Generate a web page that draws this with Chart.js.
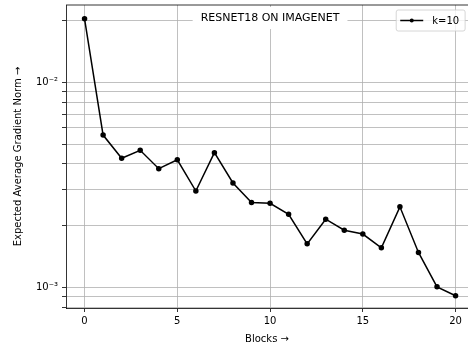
<!DOCTYPE html>
<html>
<head>
<meta charset="utf-8">
<script src="https://cdn.jsdelivr.net/npm/chart.js@4"></script>
<style>
    html, body { margin: 0; padding: 0; background: #fff; overflow: hidden; }
    canvas { display: block; }
</style>
</head>
<body>
<canvas id="chart" width="468" height="345" style="width:468px;height:345px"></canvas>
<script>
// Данные
const blocks = [0, 1, 2, 3, 4, 5, 6, 7, 8, 9, 10, 11, 12, 13, 14, 15, 16, 17, 18, 19, 20];
const gradNorm = [0.0204, 0.00553, 0.00426, 0.00466, 0.00379, 0.00419, 0.00295, 0.00454, 0.00323,
    0.00259, 0.00257, 0.00227, 0.00163, 0.00215, 0.00190, 0.00182, 0.00156, 0.00247, 0.00148,
    0.001006, 0.00091];
const xTicks = [0, 5, 10, 15, 20];
const yTicks = [0.0008, 0.0009, 0.001, 0.002, 0.003, 0.004, 0.005, 0.006, 0.007, 0.008, 0.009, 0.01, 0.02];
const seriesLabel = "k=10";
const chartTitle = "RESNET18 ON IMAGENET";

// Ось X в оригинале идёт от -1 до 21, но картинка обрезана справа
const xMin = -1;
const xFullMax = 21;
const xVisibleMax = 20.67;

const FONT = "DejaVu Sans";

function isDecade(v) {
    const l = Math.log10(v);
    return Math.abs(l - Math.round(l)) < 1e-9;
}

function decadeLabel(v) {
    const sup = { "-": "⁻", "0": "⁰", "1": "¹", "2": "²", "3": "³", "4": "⁴", "5": "⁵", "6": "⁶", "7": "⁷", "8": "⁸", "9": "⁹" };
    const e = String(Math.round(Math.log10(v)));
    return "10" + e.split("").map((c) => sup[c]).join("");
}

// Верхняя рамка, заголовок внутри области и легенда
const overlayPlugin = {
    id: "overlay",
    afterDatasetsDraw(chart) {
        const ctx = chart.ctx;
        const a = chart.chartArea;
        const xs = chart.scales.x;
        const fullRight = xs.getPixelForValue(xFullMax);
        ctx.save();

        ctx.strokeStyle = "#000";
        ctx.lineWidth = 0.8;
        ctx.beginPath();
        ctx.moveTo(a.left, a.top);
        ctx.lineTo(a.right, a.top);
        ctx.stroke();

        // заголовок с белой подложкой, по центру полной оси
        ctx.font = "11px '" + FONT + "'";
        const tw = ctx.measureText(chartTitle).width;
        const cx = xs.getPixelForValue((xMin + xFullMax) / 2);
        const cy = a.top + 13;
        ctx.fillStyle = "#fff";
        ctx.fillRect(cx - tw / 2 - 8, a.top + 2, tw + 16, 22);
        ctx.fillStyle = "#000";
        ctx.textAlign = "center";
        ctx.textBaseline = "middle";
        ctx.fillText(chartTitle, cx, cy);

        // легенда
        ctx.font = "10px '" + FONT + "'";
        const lw = ctx.measureText(seriesLabel).width;
        const boxR = fullRight - 9;
        const boxW = lw + 42;
        const boxL = boxR - boxW;
        const boxT = a.top + 5;
        const boxH = 21;
        ctx.beginPath();
        ctx.roundRect(boxL, boxT, boxW, boxH, 2);
        ctx.fillStyle = "rgba(255,255,255,0.8)";
        ctx.fill();
        ctx.strokeStyle = "#cccccc";
        ctx.lineWidth = 0.8;
        ctx.stroke();
        const ly = boxT + boxH / 2;
        ctx.strokeStyle = "#000";
        ctx.lineWidth = 1.5;
        ctx.beginPath();
        ctx.moveTo(boxL + 4, ly);
        ctx.lineTo(boxL + 27, ly);
        ctx.stroke();
        ctx.fillStyle = "#000";
        ctx.beginPath();
        ctx.arc(boxL + 15.5, ly, 2, 0, Math.PI * 2);
        ctx.fill();
        ctx.textAlign = "left";
        ctx.fillText(seriesLabel, boxL + 36, ly + 0.5);

        ctx.restore();
    },
};

new Chart(document.getElementById("chart"), {
    type: "line",
    data: {
        datasets: [
            {
                label: seriesLabel,
                data: blocks.map((b, i) => ({ x: b, y: gradNorm[i] })),
                borderColor: "#000",
                backgroundColor: "#000",
                borderWidth: 1.5,
                pointRadius: 2,
                pointHoverRadius: 2,
                tension: 0,
            },
        ],
    },
    options: {
        responsive: false,
        maintainAspectRatio: false,
        devicePixelRatio: 1,
        animation: false,
        events: [],
        layout: { autoPadding: false, padding: { left: 0, right: 0, top: 5, bottom: 0 } },
        plugins: {
            legend: { display: false },
            title: { display: false },
            tooltip: { enabled: false },
        },
        scales: {
            x: {
                type: "linear",
                min: xMin,
                max: xVisibleMax,
                afterBuildTicks: (scale) => {
                    scale.ticks = xTicks.map((v) => ({ value: v }));
                },
                afterFit: (scale) => {
                    scale.height = 37;
                    scale.paddingLeft = 0;
                    scale.paddingRight = 0;
                },
                grid: {
                    color: "#b0b0b0",
                    lineWidth: 0.8,
                    tickColor: "#000",
                    tickLength: 4,
                },
                border: { color: "#000", width: 0.8 },
                ticks: {
                    color: "#000",
                    padding: 3,
                    maxRotation: 0,
                    autoSkip: false,
                    font: { family: FONT, size: 10 },
                },
                title: {
                    display: true,
                    text: "Blocks →",
                    color: "#000",
                    font: { family: FONT, size: 10 },
                    padding: { top: 2, bottom: 0 },
                },
            },
            y: {
                type: "logarithmic",
                min: 0.000793,
                max: 0.02383,
                afterBuildTicks: (scale) => {
                    scale.ticks = yTicks.map((v) => ({ value: v, major: isDecade(v) }));
                },
                afterFit: (scale) => {
                    scale.width = 66;
                    scale.paddingTop = 0;
                    scale.paddingBottom = 0;
                },
                grid: {
                    color: "#b0b0b0",
                    lineWidth: 0.8,
                    tickColor: "#000",
                    tickLength: 4,
                },
                border: { color: "#000", width: 0.8 },
                ticks: {
                    color: "#000",
                    padding: 4,
                    autoSkip: false,
                    font: { family: FONT, size: 10 },
                    callback: (v) => (isDecade(v) ? decadeLabel(v) : ""),
                },
                title: {
                    display: true,
                    text: "Expected Average Gradient Norm →",
                    color: "#000",
                    font: { family: FONT, size: 10 },
                    padding: { top: 12, bottom: 0 },
                },
            },
        },
    },
    plugins: [overlayPlugin],
});
</script>
</body>
</html>
